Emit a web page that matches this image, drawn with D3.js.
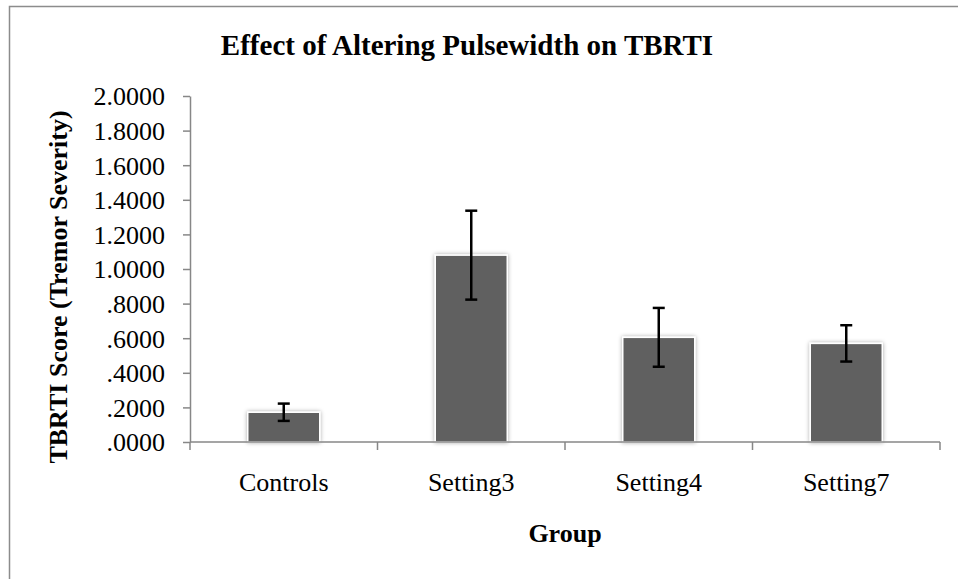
<!DOCTYPE html>
<html>
<head>
<meta charset="utf-8">
<script src="https://cdn.jsdelivr.net/npm/d3@7"></script>
<style>
	html, body { margin: 0; padding: 0; background: #fff; }
	svg { display: block; font-family: "Liberation Serif", "Times New Roman", serif; }
	.tick-label { font-size: 26px; fill: #000; }
</style>
</head>
<body>
<svg id="chart" width="958" height="579"></svg>
<script>
const groups = ['Controls', 'Setting3', 'Setting4', 'Setting7'];
const meanScores = [0.172, 1.08, 0.605, 0.57];
const errorSizes = [0.05, 0.257, 0.17, 0.105];
const yTickValues = [0, 0.2, 0.4, 0.6, 0.8, 1.0, 1.2, 1.4, 1.6, 1.8, 2.0];

const data = groups.map((g, i) => ({group: g, mean: meanScores[i], err: errorSizes[i]}));

const svg = d3.select('#chart');
const axisColor = '#878787';

const plot = {left: 190, right: 940, top: 96, bottom: 442};

// outer chart frame (runs past the right and bottom edges)
svg.append('rect')
	.attr('x', 9.5)
	.attr('y', 6.5)
	.attr('width', 1000)
	.attr('height', 1000)
	.attr('fill', 'none')
	.attr('stroke', '#8c8c8c')
	.attr('stroke-width', 1.5);

const defs = svg.append('defs');
const glow = defs.append('filter')
	.attr('id', 'glow')
	.attr('x', '-20%').attr('y', '-20%')
	.attr('width', '140%').attr('height', '140%');
glow.append('feDropShadow')
	.attr('dx', 0).attr('dy', 0)
	.attr('stdDeviation', 2.2)
	.attr('flood-color', '#000')
	.attr('flood-opacity', 0.35);

const x = d3.scaleBand()
	.domain(groups)
	.range([plot.left, plot.right])
	.paddingInner(0.616)
	.paddingOuter(0.308);

const y = d3.scaleLinear()
	.domain([0, 2])
	.range([plot.bottom, plot.top]);

const fmt = d => d3.format('.4f')(d).replace(/^0/, '');

// y axis
const yAxis = svg.append('g')
	.attr('transform', `translate(${plot.left},0)`)
	.call(d3.axisLeft(y).tickValues(yTickValues).tickFormat(fmt).tickSize(7).tickSizeOuter(0))
	.attr('font-family', null)
	.attr('font-size', null);
yAxis.select('.domain').attr('stroke', axisColor).attr('stroke-width', 1.5);
yAxis.selectAll('.tick line').attr('stroke', axisColor).attr('stroke-width', 1.5);
yAxis.selectAll('.tick text')
	.attr('class', 'tick-label')
	.attr('x', -25)
	.attr('dy', '0.34em');

// bars
svg.append('g').selectAll('rect')
	.data(data)
	.enter().append('rect')
	.attr('x', d => x(d.group))
	.attr('y', d => y(d.mean))
	.attr('width', x.bandwidth())
	.attr('height', d => y(0) - y(d.mean))
	.attr('fill', '#606060')
	.attr('stroke', '#fff')
	.attr('stroke-width', 1.5)
	.attr('filter', 'url(#glow)');

// x axis
const xAxisG = svg.append('g')
	.attr('transform', `translate(0,${plot.bottom})`);
xAxisG.append('line')
	.attr('x1', plot.left)
	.attr('x2', plot.right)
	.attr('stroke', axisColor)
	.attr('stroke-width', 1.5);
const boundaries = d3.range(groups.length + 1).map(i => plot.left + i * x.step());
xAxisG.selectAll('.xtick')
	.data(boundaries)
	.enter().append('line')
	.attr('x1', d => d).attr('x2', d => d)
	.attr('y1', 0).attr('y2', 8)
	.attr('stroke', axisColor)
	.attr('stroke-width', 1.5);
xAxisG.selectAll('.xlabel')
	.data(groups)
	.enter().append('text')
	.attr('class', 'tick-label')
	.attr('x', d => x(d) + x.bandwidth() / 2)
	.attr('y', 49)
	.attr('text-anchor', 'middle')
	.text(d => d);

// error bars
const errG = svg.append('g')
	.attr('stroke', '#000')
	.attr('stroke-width', 2.5);
data.forEach(d => {
	const cx = x(d.group) + x.bandwidth() / 2;
	const top = y(d.mean + d.err);
	const bot = y(d.mean - d.err);
	errG.append('line').attr('x1', cx).attr('x2', cx).attr('y1', top).attr('y2', bot);
	errG.append('line').attr('x1', cx - 6).attr('x2', cx + 6).attr('y1', top).attr('y2', top);
	errG.append('line').attr('x1', cx - 6).attr('x2', cx + 6).attr('y1', bot).attr('y2', bot);
});

// titles
svg.append('text')
	.attr('x', 467)
	.attr('y', 55)
	.attr('text-anchor', 'middle')
	.attr('font-weight', 'bold')
	.attr('font-size', 29)
	.text('Effect of Altering Pulsewidth on TBRTI');

svg.append('text')
	.attr('transform', 'translate(67,287) rotate(-90)')
	.attr('text-anchor', 'middle')
	.attr('font-weight', 'bold')
	.attr('font-size', 26)
	.text('TBRTI Score (Tremor Severity)');

svg.append('text')
	.attr('x', (plot.left + plot.right) / 2)
	.attr('y', 542)
	.attr('text-anchor', 'middle')
	.attr('font-weight', 'bold')
	.attr('font-size', 26)
	.text('Group');
</script>
</body>
</html>
